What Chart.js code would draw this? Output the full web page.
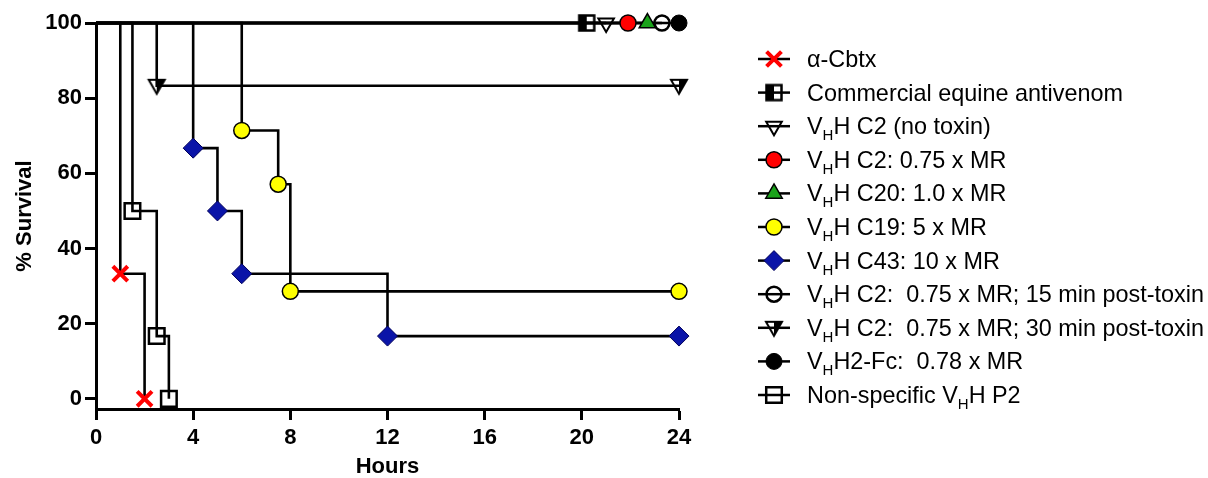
<!DOCTYPE html>
<html><head><meta charset="utf-8">
<script src="https://cdn.jsdelivr.net/npm/chart.js@4.4.0/dist/chart.umd.min.js"></script>
<style>html,body{margin:0;padding:0;background:#fff;}#wrap{width:1208px;height:478px;position:relative;}</style>
</head><body><div id="wrap"><canvas id="c" width="1208" height="478"></canvas></div>
<script>
const FONT = 'Arial, "Liberation Sans", sans-serif';
// tick labels
const xTicks = [0, 4, 8, 12, 16, 20, 24];
const yTicks = [0, 20, 40, 60, 80, 100];
// series (hours, % survival)
const cbtxHours   = [0, 1, 2];            const cbtxSurv   = [100, 33.3, 0];
const equineHours = [0, 20.2];            const equineSurv = [100, 100];
const c2NoToxHours= [0, 21];              const c2NoToxSurv= [100, 100];
const c2Hours     = [0, 21.9];            const c2Surv     = [100, 100];
const c20Hours    = [0, 22.7];            const c20Surv    = [100, 100];
const c19Hours    = [0, 6, 7.5, 8, 24];   const c19Surv    = [100, 71.4, 57.1, 28.6, 28.6];
const c43Hours    = [0, 4, 5, 6, 12, 24]; const c43Surv    = [100, 66.7, 50, 33.3, 16.7, 16.7];
const c2p15Hours  = [0, 23.3];            const c2p15Surv  = [100, 100];
const c2p30Hours  = [0, 2.5, 24];         const c2p30Surv  = [100, 83.3, 83.3];
const fcHours     = [0, 24];              const fcSurv     = [100, 100];
const p2Hours     = [0, 1.5, 2.5, 3];     const p2Surv     = [100, 50, 16.7, 0];
// legend labels ("_H" = subscript H)
const legendLabels = [
  'α-Cbtx',
  'Commercial equine antivenom',
  'V_HH C2 (no toxin)',
  'V_HH C2: 0.75 x MR',
  'V_HH C20: 1.0 x MR',
  'V_HH C19: 5 x MR',
  'V_HH C43: 10 x MR',
  'V_HH C2:  0.75 x MR; 15 min post-toxin',
  'V_HH C2:  0.75 x MR; 30 min post-toxin',
  'V_HH2-Fc:  0.78 x MR',
  'Non-specific V_HH P2'
];

function halfSquare() {
  const c = document.createElement('canvas'); c.width = 20; c.height = 20;
  const g = c.getContext('2d');
  g.fillStyle = '#000'; g.fillRect(2.5, 2.5, 7.5, 15);
  g.strokeStyle = '#000'; g.lineWidth = 2.5; g.strokeRect(2.5, 2.5, 15, 15);
  return c;
}
function halfDownTri() {
  const c = document.createElement('canvas'); c.width = 22; c.height = 22;
  const g = c.getContext('2d');
  const path = () => { g.beginPath(); g.moveTo(3, 5); g.lineTo(19, 5); g.lineTo(11, 19); g.closePath(); };
  g.save(); g.beginPath(); g.rect(11, 0, 11, 22); g.clip();
  path(); g.fillStyle = '#000'; g.fill(); g.restore();
  path(); g.strokeStyle = '#000'; g.lineWidth = 2; g.stroke();
  return c;
}
const halfSq = halfSquare();
const halfTri = halfDownTri();

function mk(label, hours, surv, st) {
  const r = st.r;
  return {
    label,
    data: hours.map((h, k) => ({x: h, y: surv[k]})),
    borderColor: '#000', borderWidth: 2.6, stepped: true, fill: false, clip: false, tension: 0,
    pointStyle: st.style, pointRotation: st.rot || 0,
    pointBackgroundColor: st.bg, pointBorderColor: st.bc, pointBorderWidth: st.bw,
    markerRadius: r,
    pointRadius: ctx => ctx.dataIndex === 0 ? 0 : r,
    pointHoverRadius: ctx => ctx.dataIndex === 0 ? 0 : r
  };
}
const T = 'rgba(0,0,0,0)';
const datasets = [
  mk(legendLabels[0], cbtxHours, cbtxSurv, {style: 'crossRot', r: 10.5, bg: '#ff0000', bc: '#ff0000', bw: 4}),
  mk(legendLabels[1], equineHours, equineSurv, {style: halfSq, r: 8, bg: T, bc: '#000', bw: 2.5}),
  mk(legendLabels[2], c2NoToxHours, c2NoToxSurv, {style: 'triangle', rot: 180, r: 9, bg: T, bc: '#000', bw: 2}),
  mk(legendLabels[3], c2Hours, c2Surv, {style: 'circle', r: 8, bg: '#ff0000', bc: '#000', bw: 1.5}),
  mk(legendLabels[4], c20Hours, c20Surv, {style: 'triangle', r: 9.5, bg: '#1aa31a', bc: '#000', bw: 1.5}),
  mk(legendLabels[5], c19Hours, c19Surv, {style: 'circle', r: 8, bg: '#ffff00', bc: '#000', bw: 1.5}),
  mk(legendLabels[6], c43Hours, c43Surv, {style: 'rectRot', r: 10, bg: '#0a14a8', bc: '#00005a', bw: 1}),
  mk(legendLabels[7], c2p15Hours, c2p15Surv, {style: 'circle', r: 7.5, bg: T, bc: '#000', bw: 2.5}),
  mk(legendLabels[8], c2p30Hours, c2p30Surv, {style: halfTri, r: 8.5, bg: T, bc: '#000', bw: 2}),
  mk(legendLabels[9], fcHours, fcSurv, {style: 'circle', r: 8, bg: '#000', bc: '#000', bw: 1}),
  mk(legendLabels[10], p2Hours, p2Surv, {style: 'rect', r: 11, bg: T, bc: '#000', bw: 2.5})
];

function drawRichText(ctx, text, x, y) {
  const parts = text.split('_H');
  ctx.fillStyle = '#000'; ctx.textBaseline = 'alphabetic'; ctx.textAlign = 'left';
  const base = y + 8;
  parts.forEach((p, k) => {
    if (k > 0) {
      ctx.font = '15px ' + FONT; ctx.fillText('H', x, base + 6); x += ctx.measureText('H').width;
    }
    ctx.font = '23.4px ' + FONT; ctx.fillText(p, x, base); x += ctx.measureText(p).width;
  });
}

const sideLegend = {
  id: 'sideLegend',
  afterDraw(chart) {
    const ctx = chart.ctx;
    chart.data.datasets.forEach((ds, i) => {
      const y = 59 + 33.6 * i;
      ctx.save();
      ctx.strokeStyle = '#000'; ctx.lineWidth = 2.5;
      ctx.beginPath(); ctx.moveTo(758, y); ctx.lineTo(790, y); ctx.stroke();
      ctx.fillStyle = ds.pointBackgroundColor; ctx.strokeStyle = ds.pointBorderColor; ctx.lineWidth = ds.pointBorderWidth;
      Chart.helpers.drawPoint(ctx, {pointStyle: ds.pointStyle, radius: ds.markerRadius, rotation: ds.pointRotation || 0, borderWidth: ds.pointBorderWidth}, 774, y);
      ctx.restore();
      ctx.save(); drawRichText(ctx, ds.label, 807, y); ctx.restore();
    });
  }
};

const tickFont = {family: FONT, size: 22, weight: 'bold'};
new Chart(document.getElementById('c'), {
  type: 'line',
  data: {datasets},
  options: {
    responsive: false, animation: false, devicePixelRatio: 1,
    layout: {padding: {top: 23, right: 529, bottom: 0, left: 0}},
    plugins: {legend: {display: false}, tooltip: {enabled: false}},
    scales: {
      x: {
        type: 'linear', min: 0, max: 24,
        afterBuildTicks: s => { s.ticks = xTicks.map(v => ({value: v})); },
        afterFit: s => { s.height = 69; },
        border: {display: true, color: '#000', width: 3},
        grid: {drawOnChartArea: false, drawTicks: true, tickLength: 11, tickWidth: 3, tickColor: '#000', color: '#000'},
        ticks: {color: '#000', font: tickFont, padding: 5, maxRotation: 0, autoSkip: false},
        title: {display: true, text: 'Hours', color: '#000', font: {family: FONT, size: 22, weight: 'bold', lineHeight: 1}, padding: {top: 0, bottom: 0}}
      },
      y: {
        type: 'linear', min: -2.7, max: 100,
        afterBuildTicks: s => { s.ticks = yTicks.map(v => ({value: v})); },
        afterFit: s => { s.width = 96; },
        border: {display: true, color: '#000', width: 3},
        grid: {drawOnChartArea: false, drawTicks: true, tickLength: 11, tickWidth: 3, tickColor: '#000', color: '#000'},
        ticks: {color: '#000', font: tickFont, padding: 3, autoSkip: false},
        title: {display: true, text: '% Survival', color: '#000', font: {family: FONT, size: 22, weight: 'bold', lineHeight: 1}, padding: {top: 14, bottom: 0}}
      }
    }
  },
  plugins: [sideLegend]
});
</script></body></html>
